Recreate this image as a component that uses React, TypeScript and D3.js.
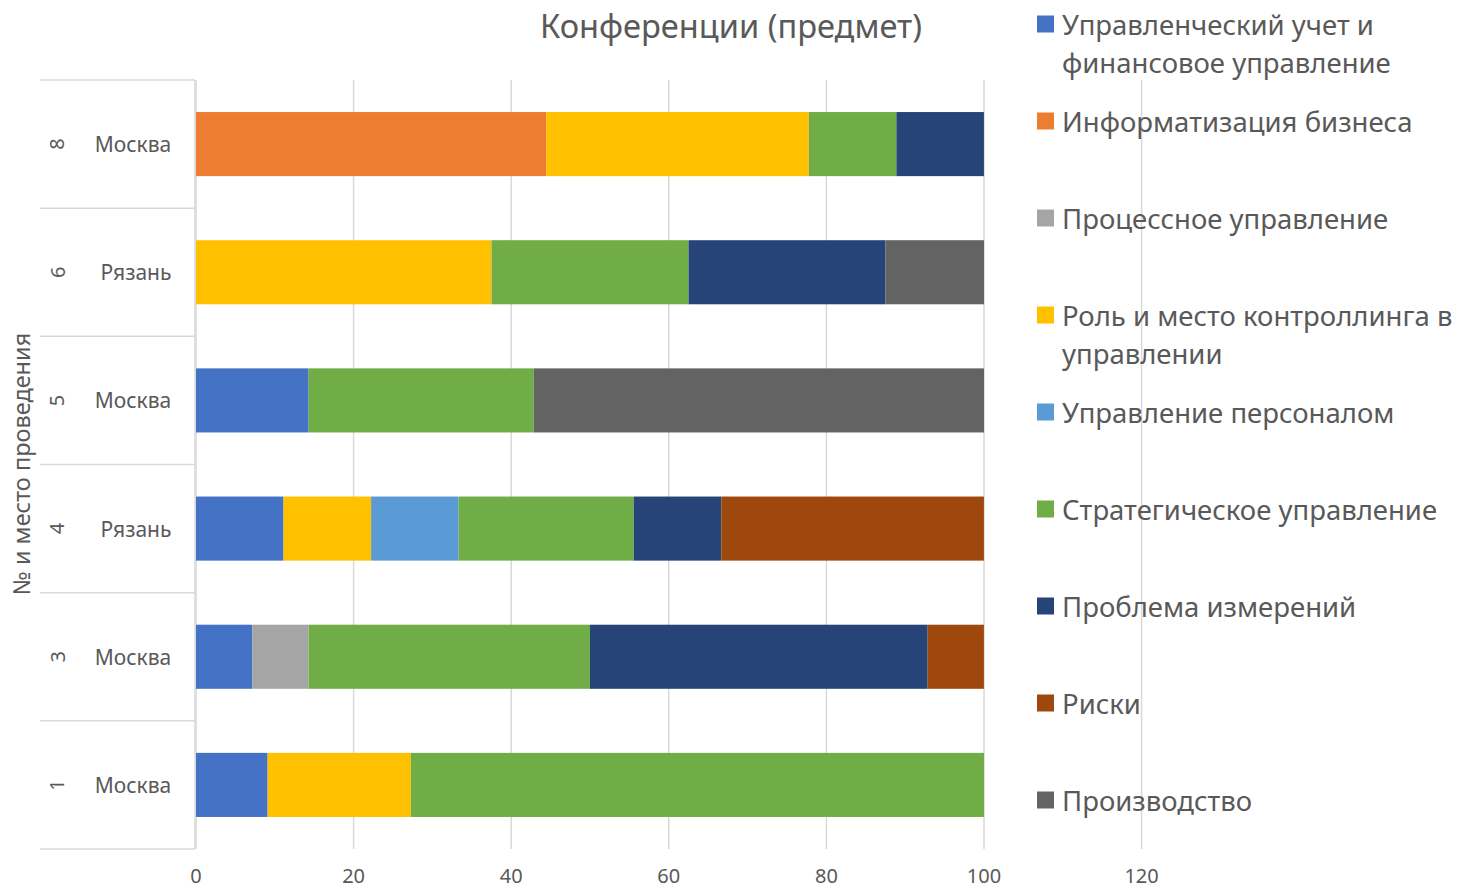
import React from "react";
import * as d3 from "d3";

const categories = ["8", "6", "5", "4", "3", "1"];
const cities = ["Москва", "Рязань", "Москва", "Рязань", "Москва", "Москва"];
const seriesNames = [
  "Управленческий учет и финансовое управление",
  "Информатизация бизнеса",
  "Процессное управление",
  "Роль и место контроллинга в управлении",
  "Управление персоналом",
  "Стратегическое управление",
  "Проблема измерений",
  "Риски",
  "Производство",
];
const legendLines = [
  ["Управленческий учет и", "финансовое управление"],
  ["Информатизация бизнеса"],
  ["Процессное управление"],
  ["Роль и место контроллинга в", "управлении"],
  ["Управление персоналом"],
  ["Стратегическое управление"],
  ["Проблема измерений"],
  ["Риски"],
  ["Производство"],
];
const colors = ["#4472C4", "#ED7D31", "#A5A5A5", "#FFC000", "#5B9BD5", "#70AD47", "#264478", "#9E480E", "#636363"];

const uchet = [0, 0, 14.29, 11.11, 7.14, 9.09];
const inform = [44.44, 0, 0, 0, 0, 0];
const process = [0, 0, 0, 0, 7.14, 0];
const rol = [33.33, 37.5, 0, 11.11, 0, 18.18];
const personal = [0, 0, 0, 11.11, 0, 0];
const strat = [11.11, 25, 28.57, 22.22, 35.71, 72.73];
const problema = [11.11, 25, 0, 11.11, 42.86, 0];
const riski = [0, 0, 0, 33.33, 7.14, 0];
const proizv = [0, 12.5, 57.14, 0, 0, 0];
const xTicks = [0, 20, 40, 60, 80, 100, 120];

const seriesValues = [uchet, inform, process, rol, personal, strat, problema, riski, proizv];

const FONT = "'Noto Sans', sans-serif";
const TXT = "#595959";
const GRID = "#d9d9d9";

export default function App() {
  const W = 1458, H = 890;
  const x = d3.scaleLinear().domain([0, 120]).range([196, 1141.6]);
  const y = d3.scaleBand<string>().domain(categories).range([80, 849]).paddingInner(0.5).paddingOuter(0.25);
  const rows = categories.map((c, i) => {
    const r: any = { cat: c };
    seriesNames.forEach((s, j) => (r[s] = seriesValues[j][i]));
    return r;
  });
  const stacked = d3.stack<any>().keys(seriesNames)(rows);
  const step = y.step();
  const top = 80, bottom = 849;
  const bounds = categories.map((c) => (y(c) as number) - (step - y.bandwidth()) / 2);

  return (
    <svg width={W} height={H} style={{ position: "absolute", left: 0, top: 0, background: "#fff" }} fontFamily={FONT}>
      <rect x={0} y={0} width={W} height={H} fill="#fff" />
      {xTicks.map((t) => (
        <line key={t} x1={x(t)} x2={x(t)} y1={top} y2={bottom} stroke={GRID} strokeWidth={1.5} />
      ))}
      {stacked.map((s, j) => (
        <g key={s.key} fill={colors[j]}>
          {s.map((d, i) =>
            d[1] - d[0] > 0 ? (
              <rect key={i} x={x(d[0])} width={x(d[1]) - x(d[0])} y={y(categories[i])} height={y.bandwidth()} />
            ) : null
          )}
        </g>
      ))}
      {/* category axis */}
      <line x1={195} x2={195} y1={top} y2={bottom} stroke={GRID} strokeWidth={1.5} />
      {bounds.map((b, i) => (
        <line key={i} x1={40} x2={195} y1={b} y2={b} stroke={GRID} strokeWidth={1.5} />
      ))}
      <line x1={40} x2={195} y1={bottom} y2={bottom} stroke={GRID} strokeWidth={1.5} />
      {categories.map((c, i) => {
        const cy = (y(c) as number) + y.bandwidth() / 2;
        const cx = cities[i] === "Рязань" ? 136 : 133;
        return (
          <g key={c}>
            <text x={57} y={cy} transform={`rotate(-90 57 ${cy})`} textAnchor="middle" dominantBaseline="central" fontSize={20} fill={TXT}>{c}</text>
            <text x={cx} y={cy} textAnchor="middle" dominantBaseline="central" fontSize={21} fill={TXT}>{cities[i]}</text>
          </g>
        );
      })}
      {xTicks.map((t) => (
        <text key={t} x={x(t)} y={883} textAnchor="middle" fontSize={20} fill={TXT}>{t}</text>
      ))}
      <text x={21} y={464} transform="rotate(-90 21 464)" textAnchor="middle" dominantBaseline="central" fontSize={23.5} fill={TXT}>№ и место проведения</text>
      <text x={731} y={25} textAnchor="middle" dominantBaseline="central" fontSize={32.6} fill={TXT}>Конференции (предмет)</text>
      {legendLines.map((lines, i) => {
        const ly = 24 + i * 97;
        return (
          <g key={i}>
            <rect x={1037} y={ly - 8.5} width={17} height={17} fill={colors[i]} />
            {lines.map((l, k) => (
              <text key={k} x={1062} y={ly + k * 38} dominantBaseline="central" fontSize={27.5} fill={TXT}>{l}</text>
            ))}
          </g>
        );
      })}
    </svg>
  );
}
